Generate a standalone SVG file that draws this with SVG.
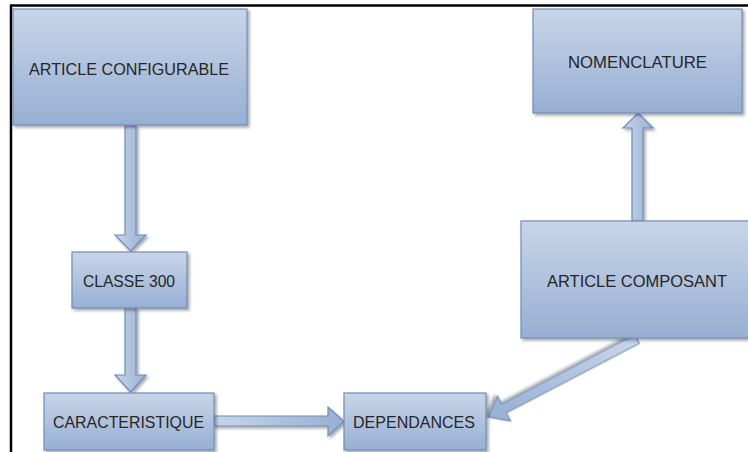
<svg xmlns="http://www.w3.org/2000/svg" width="748" height="452" viewBox="0 0 748 452">
<defs>
<linearGradient id="g" x1="0" y1="0" x2="0" y2="1">
<stop offset="0" stop-color="#c8d5e8"/>
<stop offset="1" stop-color="#97afd3"/>
</linearGradient>
<linearGradient id="gh" x1="0" y1="0" x2="1" y2="0">
<stop offset="0" stop-color="#c8d5e8"/>
<stop offset="1" stop-color="#97afd3"/>
</linearGradient>
<filter id="sh" x="-10%" y="-10%" width="130%" height="130%">
<feDropShadow dx="2" dy="2" stdDeviation="1.5" flood-color="#000" flood-opacity="0.35"/>
</filter>
</defs>
<style>
.box{fill:url(#g);stroke:#6f8cb8;stroke-width:1.2;filter:url(#sh)}
.arr{fill:url(#gh);stroke:#6f8cb8;stroke-width:1.2;stroke-linejoin:miter;filter:url(#sh)}
.t{font-family:"Liberation Sans",Arial,sans-serif;font-size:16.5px;fill:#262626;text-anchor:middle}
</style>
<rect width="748" height="452" fill="#fff"/>
<g id="frame" fill="none" stroke="#000" stroke-width="2.5">
<line x1="10" y1="5.5" x2="748" y2="5.5"/>
<line x1="11" y1="5" x2="11" y2="452"/>
</g>
<g id="connectors">
<polygon class="arr" points="125,126 136,126 136,235 146,235 130.5,251 115,235 125,235"/>
<polygon class="arr" points="125,308 136,308 136,375 146,375 130.5,392 115,375 125,375"/>
<polygon class="arr" points="214,416 328,416 328,407 344,421.5 328,436 328,426 214,426"/>
<polygon class="arr" points="632,221 632,128 623,128 638,113 653,128 643,128 643,221"/>
<polygon class="arr" transform="translate(637,339) rotate(152.4)" points="0,-5 150,-5 150,-14 168,0 150,14 150,5 0,5"/>
</g>
<g id="article-configurable">
<rect class="box" x="13" y="9" width="234" height="116"/>
<text class="t" x="129" y="75" textLength="200" lengthAdjust="spacingAndGlyphs">ARTICLE CONFIGURABLE</text>
</g>
<g id="classe-300">
<rect class="box" x="72" y="252" width="115" height="56"/>
<text class="t" x="129" y="287" textLength="92" lengthAdjust="spacingAndGlyphs">CLASSE 300</text>
</g>
<g id="caracteristique">
<rect class="box" x="44" y="393" width="170" height="57"/>
<text class="t" x="128.5" y="428" textLength="151" lengthAdjust="spacingAndGlyphs">CARACTERISTIQUE</text>
</g>
<g id="dependances">
<rect class="box" x="344" y="393" width="142" height="57"/>
<text class="t" x="414" y="428" textLength="122" lengthAdjust="spacingAndGlyphs">DEPENDANCES</text>
</g>
<g id="nomenclature">
<rect class="box" x="533" y="9" width="209" height="104"/>
<text class="t" x="637.5" y="68" textLength="139" lengthAdjust="spacingAndGlyphs">NOMENCLATURE</text>
</g>
<g id="article-composant">
<rect class="box" x="521" y="221" width="230" height="117"/>
<text class="t" x="637" y="287" textLength="180" lengthAdjust="spacingAndGlyphs">ARTICLE COMPOSANT</text>
</g>
</svg>
